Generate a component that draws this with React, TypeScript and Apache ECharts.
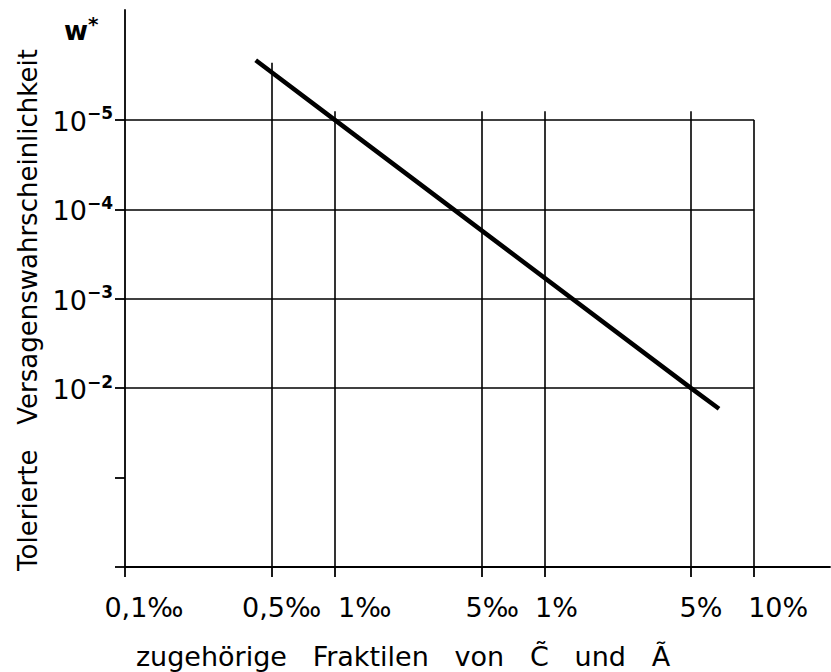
import React, { useEffect, useRef } from "react";
import * as echarts from "echarts";

// ---- data ----
const xTickValues = [0.0001, 0.0005, 0.001, 0.005, 0.01, 0.05, 0.1];
const xTickLabels = ["0,1‰", "0,5‰", "1‰", "5‰", "1%", "5%", "10%"];
const yTickValues = [0.00001, 0.0001, 0.001, 0.01, 0.1, 1];
const yLabelValues = [0.00001, 0.0001, 0.001, 0.01];
const yLabelExponents = ["−5", "−4", "−3", "−2"];
const curveX = [0.00042, 0.001, 0.05, 0.068];
const curveW = [0.00000215, 0.00001, 0.01, 0.017];
const hGridValues = [0.00001, 0.0001, 0.001, 0.01];
const vGridValues = [0.0005, 0.001, 0.005, 0.01, 0.05, 0.1];
const vGridTops = [0.0000023, 0.000008, 0.000008, 0.000008, 0.000008, 0.00001];
const xRange = [0.0001, 0.23];
const wRange = [0.00000059, 1];
const yTitle = "Tolerierte\u00a0\u00a0 Versagenswahrscheinlichkeit";
const xTitle = "zugehörige\u00a0\u00a0 Fraktilen\u00a0\u00a0 von\u00a0\u00a0 C\u0303\u00a0\u00a0 und\u00a0\u00a0 Ã";

const FONT = "'DejaVu Sans', 'Liberation Sans', sans-serif";

function matchIndex(arr: number[], v: number) {
  for (let i = 0; i < arr.length; i++) {
    if (Math.abs(Math.log10(arr[i]) - Math.log10(v)) < 1e-6) return i;
  }
  return -1;
}

export default function App() {
  const ref = useRef<HTMLDivElement>(null);
  useEffect(() => {
    if (!ref.current) return;
    const chart = echarts.init(ref.current, undefined, { renderer: "svg" });
    const lineStyle = { color: "#000", width: 1.6, type: "solid" as const };
    // horizontal offsets (px) of each x tick label to the right of its tick, as in the reference lettering
    const labelShift = [19, 10, 30, 11, 12, 10, 24];
    const xRich: Record<string, any> = {};
    labelShift.forEach((s, i) => {
      xRich["s" + i] = { fontSize: 27, fontFamily: FONT, color: "#000", padding: [0, 0, 0, s * 2] };
    });
    const markData: any[] = [];
    hGridValues.forEach((v) => {
      markData.push([{ coord: [xRange[0], v] }, { coord: [vGridValues[vGridValues.length - 1], v] }]);
    });
    vGridValues.forEach((x, i) => {
      markData.push([{ coord: [x, wRange[1]] }, { coord: [x, vGridTops[i]] }]);
    });
    chart.setOption({
      animation: false,
      backgroundColor: "#fff",
      grid: { left: 125, right: 1, top: 10, bottom: 105, containLabel: false },
      xAxis: {
        type: "log",
        logBase: 10,
        min: xRange[0],
        max: xRange[1],
        splitLine: { show: false },
        axisLine: { show: true, lineStyle: { color: "#000", width: 1.8 } },
        axisTick: { show: true, customValues: xTickValues, length: 10, lineStyle: { color: "#000", width: 1.8 } },
        axisLabel: {
          customValues: xTickValues,
          margin: 27,
          color: "#000",
          fontFamily: FONT,
          fontSize: 27,
          formatter: (v: number) => {
            const i = matchIndex(xTickValues, v);
            return i >= 0 ? `{s${i}|${xTickLabels[i]}}` : "";
          },
          rich: xRich,
        },
      },
      yAxis: {
        type: "log",
        logBase: 10,
        inverse: true,
        min: wRange[0],
        max: wRange[1],
        splitLine: { show: false },
        axisLine: { show: true, lineStyle: { color: "#000", width: 1.8 } },
        axisTick: { show: true, customValues: yTickValues, length: 10, lineStyle: { color: "#000", width: 1.8 } },
        axisLabel: {
          customValues: yLabelValues,
          margin: 12,
          color: "#000",
          fontFamily: FONT,
          formatter: (v: number) => {
            const i = matchIndex(yLabelValues, v);
            return i >= 0 ? `{b|10}{s|${yLabelExponents[i]}}` : "";
          },
          rich: {
            b: { fontSize: 27, fontFamily: FONT, color: "#000", lineHeight: 30, verticalAlign: "bottom" },
            s: { fontSize: 17, fontFamily: FONT, fontWeight: "bold", color: "#000", lineHeight: 30, verticalAlign: "top" },
          },
        },
      },
      series: [
        {
          type: "line",
          data: curveX.map((x, i) => [x, curveW[i]]),
          showSymbol: false,
          lineStyle: { color: "#000", width: 4.5 },
          silent: true,
          markLine: {
            silent: true,
            symbol: ["none", "none"],
            label: { show: false },
            lineStyle,
            emphasis: { disabled: true },
            data: markData,
          },
          z: 3,
        },
      ],
      graphic: [
        {
          type: "text",
          x: 28,
          y: 310,
          rotation: Math.PI / 2,
          style: {
            text: yTitle,
            fontFamily: FONT,
            fontSize: 26,
            fill: "#000",
            align: "center",
            verticalAlign: "middle",
            textAlign: "center",
            textVerticalAlign: "middle",
          },
        },
        {
          type: "text",
          x: 403,
          y: 656,
          style: {
            text: xTitle,
            fontFamily: FONT,
            fontSize: 27,
            fill: "#000",
            align: "center",
            verticalAlign: "middle",
            textAlign: "center",
            textVerticalAlign: "middle",
          },
        },
        {
          type: "text",
          x: 64,
          y: 14,
          style: {
            text: "{w|w}{s|*}",
            rich: {
              w: { fontSize: 26, fontWeight: "bold", fontFamily: FONT, fill: "#000", color: "#000", lineHeight: 30, verticalAlign: "bottom" },
              s: { fontSize: 20, fontWeight: "bold", fontFamily: FONT, fill: "#000", color: "#000", lineHeight: 30, verticalAlign: "top" },
            },
          },
        },
      ],
    });
    return () => chart.dispose();
  }, []);
  return (
    <div
      ref={ref}
      style={{ position: "fixed", left: 0, top: 0, width: 831, height: 672, background: "#fff" }}
    />
  );
}
